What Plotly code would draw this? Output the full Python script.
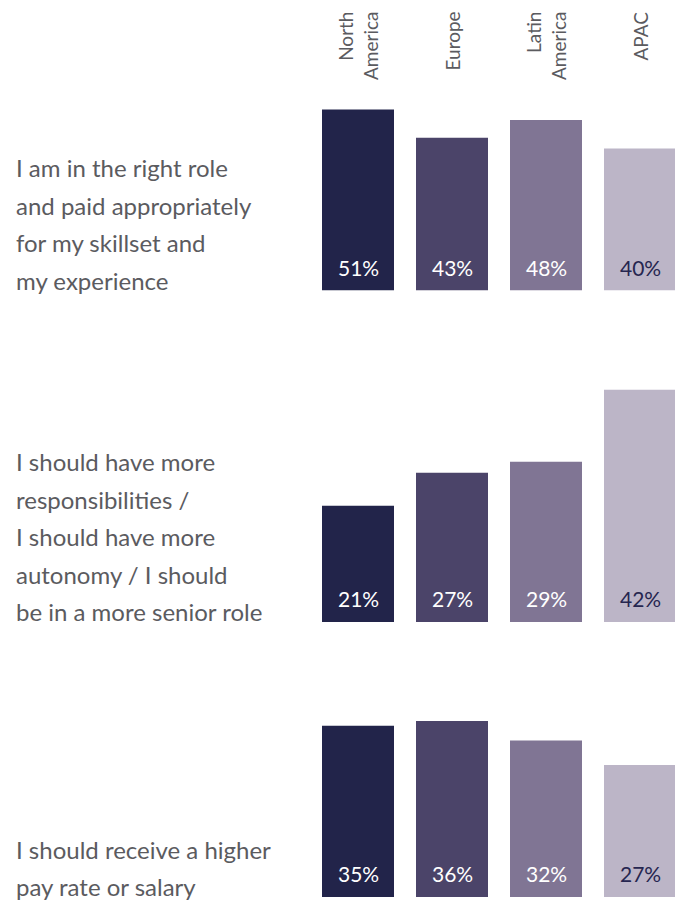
import plotly.graph_objects as go

# ---- data ----
regions = ["North America", "Europe", "Latin America", "APAC"]
region_headers = ["North<br>America", "Europe", "Latin<br>America", "APAC"]
statements = [
    "I am in the right role<br>and paid appropriately<br>for my skillset and<br>my experience",
    "I should have more<br>responsibilities /<br>I should have more<br>autonomy / I should<br>be in a more senior role",
    "I should receive a higher<br>pay rate or salary",
]
north_america = [51, 21, 35]
europe = [43, 27, 36]
latin_america = [48, 29, 32]
apac = [40, 42, 27]

series = [north_america, europe, latin_america, apac]
bar_colors = ["#22244a", "#4b4469", "#807594", "#bcb5c7"]
label_colors = ["#ffffff", "#ffffff", "#ffffff", "#262650"]

# page has an 8px body margin, so the figure is sized to fit inside the window
W, H = 675, 894
TEXT_GREY = "#5b5b5f"
FONT = "Lato"

# per-row layout: (baseline pixel from top, top pixel, pixels per percent)
rows = [(282.5, 90, 3.55), (614, 370, 5.53), (889, 700, 4.89)]
PLOT_LEFT = 303
BAND = 94

fig = go.Figure()
annotations = []
layout_axes = {}

for r, (base_px, top_px, pxpp) in enumerate(rows):
    n = "" if r == 0 else str(r + 1)
    xa, ya = "x" + n, "y" + n
    vals = [s[r] for s in series]
    fig.add_trace(go.Bar(
        x=regions, y=vals, xaxis=xa, yaxis=ya,
        marker=dict(color=bar_colors, line=dict(width=0)),
        hoverinfo="skip", showlegend=False,
    ))
    y0 = 1 - base_px / H
    y1 = 1 - top_px / H
    layout_axes["xaxis" + n] = dict(
        domain=[PLOT_LEFT / W, 1], range=[-0.5, -0.5 + (W - PLOT_LEFT) / BAND],
        anchor=ya, visible=False, fixedrange=True,
    )
    layout_axes["yaxis" + n] = dict(
        domain=[y0, y1], range=[0, (base_px - top_px) / pxpp],
        anchor=xa, visible=False, fixedrange=True,
    )
    # value labels inside the bars
    for i, reg in enumerate(regions):
        annotations.append(dict(
            x=reg, y=0, xref=xa, yref=ya, text=f"{vals[i]}%",
            showarrow=False, xanchor="center", yanchor="bottom", yshift=9,
            font=dict(family=FONT, size=21, color=label_colors[i]),
        ))
    # statement labels, one annotation per line
    lines = statements[r].split("<br>")
    for k, line in enumerate(lines):
        from_bottom = len(lines) - 1 - k
        annotations.append(dict(
            x=6 / W, y=0, xref="paper", yref=ya, text=line,
            showarrow=False, xanchor="left", yanchor="bottom",
            yshift=-6 + 37.5 * from_bottom,
            font=dict(family=FONT, size=24, color=TEXT_GREY),
        ))

# region headers (rotated)
for reg, hdr in zip(regions, region_headers):
    annotations.append(dict(
        x=reg, y=1 - 2 / H, xref="x", yref="paper", text=hdr,
        showarrow=False, textangle=-90, align="right",
        xanchor="center", yanchor="top",
        font=dict(family=FONT, size=19, color=TEXT_GREY),
    ))

fig.update_layout(
    width=W, height=H,
    margin=dict(l=0, r=0, t=0, b=0),
    paper_bgcolor="white", plot_bgcolor="white",
    bargap=1 - 72 / 94,
    annotations=annotations,
    **layout_axes,
)

fig.write_html("out.html")
